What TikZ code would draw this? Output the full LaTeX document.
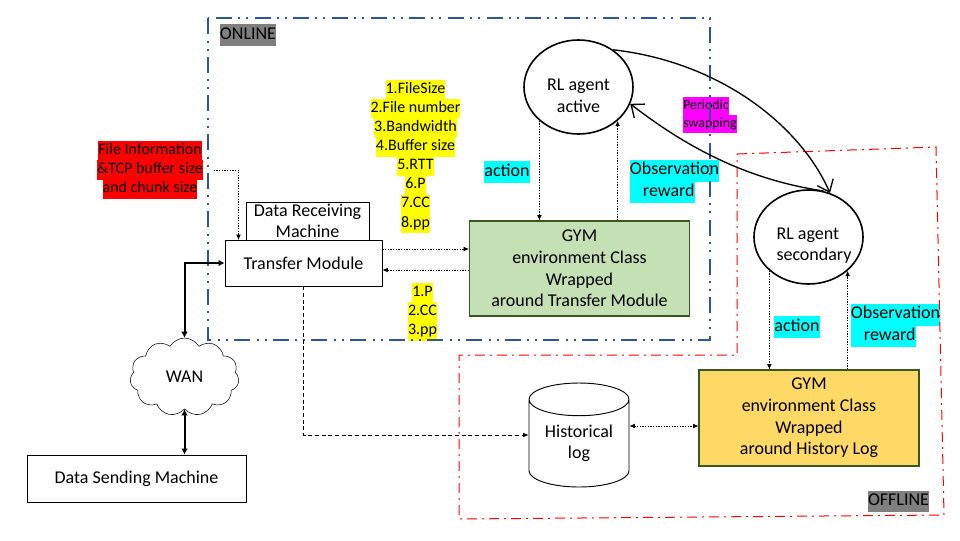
\documentclass[tikz,border=0pt]{standalone}
\usepackage{fontspec}
\setmainfont{Carlito}
\usetikzlibrary{arrows.meta,shapes.geometric,shapes.symbols}
\definecolor{framegreen}{HTML}{385723}
\definecolor{gymgreen}{HTML}{C5E0B4}
\definecolor{gymyellow}{HTML}{FFD966}
\definecolor{frameblue}{HTML}{2F5597}
\definecolor{labelgray}{HTML}{7F7F7F}
\definecolor{tagcyan}{HTML}{00FFFF}
\definecolor{tagmagenta}{HTML}{FF00FF}
\definecolor{tagyellow}{HTML}{FFFF00}
\definecolor{tagred}{HTML}{FF0000}
\newcommand{\hlline}[2]{{\setlength{\fboxsep}{0pt}\colorbox{#1}{\strut #2}}}
\newcommand{\agentlift}{\rule{0pt}{21.5pt}}
\tikzset
{
  bodytext/.style={font=\fontsize{13.5}{16.3}\selectfont,align=center},
  boxstyle/.style={draw,line width=0.7pt,bodytext,inner sep=0pt},
  agentstyle/.style={draw,ellipse,line width=1.2pt,bodytext,inner sep=0pt,minimum width=81.75pt,minimum height=70.5pt},
  gymstyle/.style={draw=framegreen,line width=0.8pt,bodytext,inner sep=0pt,minimum width=#1},
  listtext/.style={font=\fontsize{12}{14.3}\selectfont,align=center,inner sep=0pt},
  tagtext/.style={font=\fontsize{13.5}{16.3}\selectfont,align=left,inner sep=0pt},
  swaptext/.style={font=\fontsize{10.4}{13.5}\selectfont,align=left,inner sep=0pt},
  dotconn/.style={line width=0.5pt,dash pattern=on 1pt off 1pt,-{Latex[length=4pt,width=3.5pt]}},
  dashconn/.style={line width=0.5pt,dash pattern=on 3pt off 2pt,-{Latex[length=4pt,width=3.5pt]}},
  thickconn/.style={line width=1.5pt,{Latex[length=4.5pt,width=5pt]}-{Latex[length=4.5pt,width=5pt]}},
  swapconn/.style={line width=1pt,-{Straight Barb[length=8pt,width=13pt]}}
}
\begin{document}
\begin{tikzpicture}[x=0.75pt,y=-0.75pt]
\useasboundingbox (0,0) rectangle (960,540);
% machines and modules
\node[boxstyle,minimum width=92.25pt,minimum height=28.5pt] (receiver) at (307.5,221) {Data Receiving\\Machine};
\node[boxstyle,fill=white,minimum width=117.75pt,minimum height=34.5pt] (transfer) at (303.5,263) {Transfer Module};
\node[boxstyle,minimum width=164.25pt,minimum height=35.25pt] (sender) at (136.5,478.5) {Data Sending Machine};
\node[draw,cloud,cloud puffs=11,cloud puff arc=120,aspect=1.4,bodytext,inner sep=0pt,minimum width=81.75pt,minimum height=58.5pt] (wan) at (184.5,377) {WAN};
\node[draw,cylinder,shape border rotate=90,aspect=0.48,line width=0.7pt,bodytext,inner sep=0pt,minimum width=75pt,minimum height=78pt,anchor=shape center] (histlog) at (579,435) {Historical\\log};
% gym environments
\node[gymstyle=165pt,fill=gymgreen,minimum height=71.25pt] (gymonline) at (579.5,268.5) {GYM\\environment Class\\Wrapped\\around Transfer Module};
\node[gymstyle=165pt,fill=gymyellow,minimum height=72pt] (gymoffline) at (809,418) {GYM\\environment Class\\Wrapped\\around History Log};
% agents
\node[agentstyle] (rlactive) at (578.5,87) {\agentlift RL agent\\active};
\node[agentstyle,align=left,inner xsep=-12pt] (rlsecond) at (808.5,237) {\agentlift\hspace*{8.25pt}RL agent\\\hspace*{8.25pt}secondary};
% highlighted labels
\node[listtext] (fileinfo) at (150,170) {\hlline{tagred}{File Information}\\\hlline{tagred}{\&TCP buffer size}\\\hlline{tagred}{and chunk size}};
\node[listtext] (statelist) at (415.5,156.5) {\hlline{tagyellow}{1.FileSize}\\\hlline{tagyellow}{2.File number}\\\hlline{tagyellow}{3.Bandwidth}\\\hlline{tagyellow}{4.Buffer size}\\\hlline{tagyellow}{5.RTT}\\\hlline{tagyellow}{6.P}\\\hlline{tagyellow}{7.CC}\\\hlline{tagyellow}{8.pp}};
\node[listtext] (actionlist) at (422.5,312) {\hlline{tagyellow}{1.P}\\\hlline{tagyellow}{2.CC}\\\hlline{tagyellow}{3.pp}};
\node[tagtext] (actionon) at (507,172) {\hlline{tagcyan}{action}};
\node[tagtext] (obson) at (674.5,181.5) {\hlline{tagcyan}{Observation}\\\hlline{tagcyan}{\hspace{9.75pt}reward}};
\node[tagtext] (actionoff) at (797,327) {\hlline{tagcyan}{action}};
\node[tagtext] (obsoff) at (895.5,325.5) {\hlline{tagcyan}{Observation}\\\hlline{tagcyan}{\hspace{9.75pt}reward}};
\node[swaptext] (swaplabel) at (710,115) {\hlline{tagmagenta}{Periodic}\\\hlline{tagmagenta}{swapping}};
\node[tagtext] (onlinelabel) at (248,35) {\hlline{labelgray}{ONLINE}};
\node[tagtext] (offlinelabel) at (898.5,501.5) {\hlline{labelgray}{OFFLINE}};
% online and offline frames
\draw[frameblue,line width=1.5pt,dash pattern=on 12pt off 5pt on 1.5pt off 4.5pt on 1.5pt off 4.5pt] (208,18) rectangle (710,340);
\draw[tagred,line width=0.75pt,dash pattern=on 7.5pt off 3.75pt on 1.5pt off 3.75pt] (737,154) -- (936,147) -- (944,515) -- (459,519) -- (459,355) -- (737,355) -- cycle;
% connectors
\draw[dotconn,shorten <=8pt] (fileinfo.east) -| (238.5,240);
\draw[dotconn] ([yshift=10.5pt]transfer.east) -- ([yshift=10.5pt]transfer.east -| gymonline.west);
\draw[dotconn] ([yshift=-5.25pt]transfer.east -| gymonline.west) -- ([yshift=-5.25pt]transfer.east);
\draw[thickconn] (transfer.west) -| (wan.north);
\draw[thickconn] (wan.south) -- (wan.south |- sender.north);
\draw[dashconn] (transfer.south) |- (histlog.shape center -| histlog.west);
\draw[dotconn,{Latex[length=4pt,width=3.5pt]}-{Latex[length=4pt,width=3.5pt]}] ([yshift=-6pt]gymoffline.west -| histlog.east) -- ([yshift=-6pt]gymoffline.west);
\draw[dotconn] (rlactive.south west) -- (rlactive.south west |- gymonline.north);
\draw[dotconn] (rlactive.south east |- gymonline.north) -- (rlactive.south east);
\draw[dotconn] (rlsecond.south west) -- (rlsecond.south west |- gymoffline.north);
\draw[dotconn] (rlsecond.south east |- gymoffline.north) -- (rlsecond.south east);
% periodic swapping
\draw[swapconn] (rlactive.47) .. controls (720,62) and (800,125) .. (rlsecond.64);
\draw[swapconn] (rlsecond.72) .. controls (750,180) and (690,150) .. (rlactive.-18);
\end{tikzpicture}
\end{document}
